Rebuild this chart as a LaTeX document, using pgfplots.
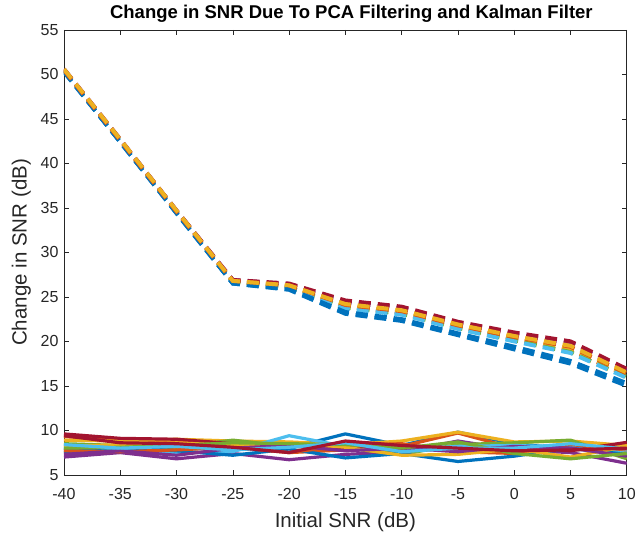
\documentclass[border=0pt]{standalone}
\usepackage{pgfplots}
\pgfplotsset{compat=1.18}
\usepackage{fontspec}
\setmainfont{Liberation Sans}
\definecolor{mB}{rgb}{0,0.447,0.741}
\definecolor{mO}{rgb}{0.850,0.325,0.098}
\definecolor{mY}{rgb}{0.929,0.694,0.125}
\definecolor{mP}{rgb}{0.494,0.184,0.556}
\definecolor{mG}{rgb}{0.466,0.674,0.188}
\definecolor{mC}{rgb}{0.301,0.745,0.933}
\definecolor{mR}{rgb}{0.635,0.078,0.184}
\definecolor{axgray}{rgb}{0.15,0.15,0.15}
\begin{document}
\begin{tikzpicture}
\begin{axis}[
  scale only axis,
  width=563pt, height=445pt,
  xmin=-40, xmax=10, ymin=5, ymax=55,
  xtick={-40,-35,...,10}, ytick={5,10,...,55},
  tick align=inside,
  major tick length=5pt,
  axis line style={axgray, line width=0.6pt},
  every tick/.style={axgray, line width=0.6pt},
  tick label style={font=\fontsize{16}{18}\selectfont, color=axgray},
  /pgf/number format/assume math mode=true,
  xticklabel style={yshift=-10pt},
  yticklabel style={xshift=-2pt},
  xlabel={Initial SNR (dB)},
  ylabel={Change in SNR (dB)},
  label style={font=\fontsize{20.5}{23}\selectfont, color=axgray},
  xlabel style={yshift=-6pt},
  ylabel style={yshift=3pt},
  title={Change in SNR Due To PCA Filtering and Kalman Filter},
  title style={font=\bfseries\fontsize{18.5}{21}\selectfont, yshift=-2pt, xshift=6pt},
  clip=true,
  dsh/.style={line width=4pt, dash pattern=on 12pt off 7pt},
  sol/.style={line width=3.2pt},
]
% dashed (PCA + Kalman)
\addplot[dsh, mB] coordinates {(-40,50.3)(-35,42.4)(-30,34.4)(-25,26.5)(-20,25.8)(-15,23.1)(-10,22.3)(-5,20.7)(0,19.1)(5,17.5)(10,15.0)};
\addplot[dsh, mO] coordinates {(-40,50.5)(-35,42.6)(-30,34.6)(-25,26.7)(-20,26.2)(-15,23.9)(-10,23.2)(-5,21.6)(0,20.3)(5,19.0)(10,16.2)};
\addplot[dsh, mY] coordinates {(-40,50.5)(-35,42.6)(-30,34.6)(-25,26.7)(-20,26.2)(-15,24.0)(-10,23.3)(-5,21.7)(0,20.4)(5,19.2)(10,16.3)};
\addplot[dsh, mP] coordinates {(-40,50.6)(-35,42.7)(-30,34.7)(-25,26.9)(-20,26.4)(-15,24.4)(-10,23.7)(-5,22.0)(0,20.8)(5,19.8)(10,16.7)};
\addplot[dsh, mG] coordinates {(-40,50.4)(-35,42.5)(-30,34.5)(-25,26.7)(-20,26.1)(-15,23.8)(-10,23.1)(-5,21.5)(0,20.1)(5,18.8)(10,16.0)};
\addplot[dsh, mC] coordinates {(-40,50.4)(-35,42.5)(-30,34.5)(-25,26.6)(-20,26.1)(-15,23.7)(-10,23.0)(-5,21.4)(0,20.0)(5,18.7)(10,15.9)};
\addplot[dsh, mR] coordinates {(-40,50.6)(-35,42.7)(-30,34.7)(-25,26.9)(-20,26.5)(-15,24.6)(-10,23.9)(-5,22.2)(0,21.0)(5,20.0)(10,16.9)};
\addplot[dsh, mB] coordinates {(-40,50.3)(-35,42.4)(-30,34.4)(-25,26.5)(-20,25.9)(-15,23.3)(-10,22.5)(-5,20.9)(0,19.4)(5,17.8)(10,15.3)};
\addplot[dsh, mO] coordinates {(-40,50.5)(-35,42.6)(-30,34.6)(-25,26.8)(-20,26.3)(-15,24.1)(-10,23.4)(-5,21.8)(0,20.5)(5,19.4)(10,16.4)};
\addplot[dsh, mY] coordinates {(-40,50.6)(-35,42.7)(-30,34.7)(-25,26.8)(-20,26.3)(-15,24.2)(-10,23.5)(-5,21.9)(0,20.6)(5,19.5)(10,16.5)};
% solid (PCA only)
\addplot[sol, mB] coordinates {(-40,7.5)(-35,7.8)(-30,7.9)(-25,8.7)(-20,8.0)(-15,9.6)(-10,8.3)(-5,9.8)(0,8.5)(5,7.9)(10,7.6)};
\addplot[sol, mO] coordinates {(-40,9.3)(-35,8.9)(-30,8.8)(-25,8.6)(-20,7.5)(-15,7.8)(-10,8.2)(-5,9.7)(0,8.0)(5,8.3)(10,8.0)};
\addplot[sol, mY] coordinates {(-40,8.9)(-35,8.8)(-30,9.0)(-25,8.8)(-20,8.7)(-15,8.4)(-10,8.8)(-5,9.8)(0,8.7)(5,8.8)(10,8.3)};
\addplot[sol, mP] coordinates {(-40,7.0)(-35,7.5)(-30,6.8)(-25,7.4)(-20,6.7)(-15,7.3)(-10,7.6)(-5,8.8)(0,7.8)(5,7.5)(10,6.3)};
\addplot[sol, mG] coordinates {(-40,8.5)(-35,8.3)(-30,8.1)(-25,8.9)(-20,8.2)(-15,8.0)(-10,7.3)(-5,8.4)(0,8.6)(5,8.9)(10,6.8)};
\addplot[sol, mC] coordinates {(-40,8.0)(-35,7.9)(-30,7.5)(-25,7.6)(-20,9.4)(-15,8.2)(-10,7.8)(-5,8.2)(0,8.3)(5,8.1)(10,7.6)};
\addplot[sol, mR] coordinates {(-40,9.6)(-35,9.1)(-30,9.0)(-25,8.5)(-20,8.4)(-15,7.9)(-10,8.0)(-5,7.8)(0,8.1)(5,7.7)(10,8.65)};
\addplot[sol, mB] coordinates {(-40,7.8)(-35,8.1)(-30,7.7)(-25,7.2)(-20,7.9)(-15,6.9)(-10,7.4)(-5,6.5)(0,7.1)(5,8.0)(10,7.3)};
\addplot[sol, mO] coordinates {(-40,7.7)(-35,7.6)(-30,7.8)(-25,8.1)(-20,7.5)(-15,8.3)(-10,8.5)(-5,7.6)(0,7.4)(5,8.4)(10,7.8)};
\addplot[sol, mY] coordinates {(-40,8.2)(-35,8.4)(-30,8.6)(-25,8.3)(-20,8.6)(-15,8.1)(-10,7.2)(-5,7.3)(0,7.9)(5,7.0)(10,8.2)};
\addplot[sol, mP] coordinates {(-40,7.3)(-35,7.7)(-30,7.2)(-25,8.0)(-20,8.3)(-15,7.7)(-10,8.0)(-5,7.6)(0,8.2)(5,8.0)(10,7.1)};
\addplot[sol, mG] coordinates {(-40,8.0)(-35,8.1)(-30,8.3)(-25,8.6)(-20,8.5)(-15,8.4)(-10,8.0)(-5,8.7)(0,7.4)(5,6.8)(10,7.4)};
\addplot[sol, mC] coordinates {(-40,8.4)(-35,8.0)(-30,8.2)(-25,7.8)(-20,8.1)(-15,8.6)(-10,7.6)(-5,8.0)(0,8.0)(5,8.5)(10,7.9)};
\addplot[sol, mR] coordinates {(-40,9.4)(-35,8.6)(-30,8.5)(-25,8.1)(-20,7.5)(-15,8.8)(-10,8.3)(-5,8.0)(0,7.7)(5,7.8)(10,8.0)};
\end{axis}
\path (current axis.south west) ++(-64pt,-60pt);
\path (current axis.north east) ++(12pt,30pt);
\end{tikzpicture}
\end{document}
